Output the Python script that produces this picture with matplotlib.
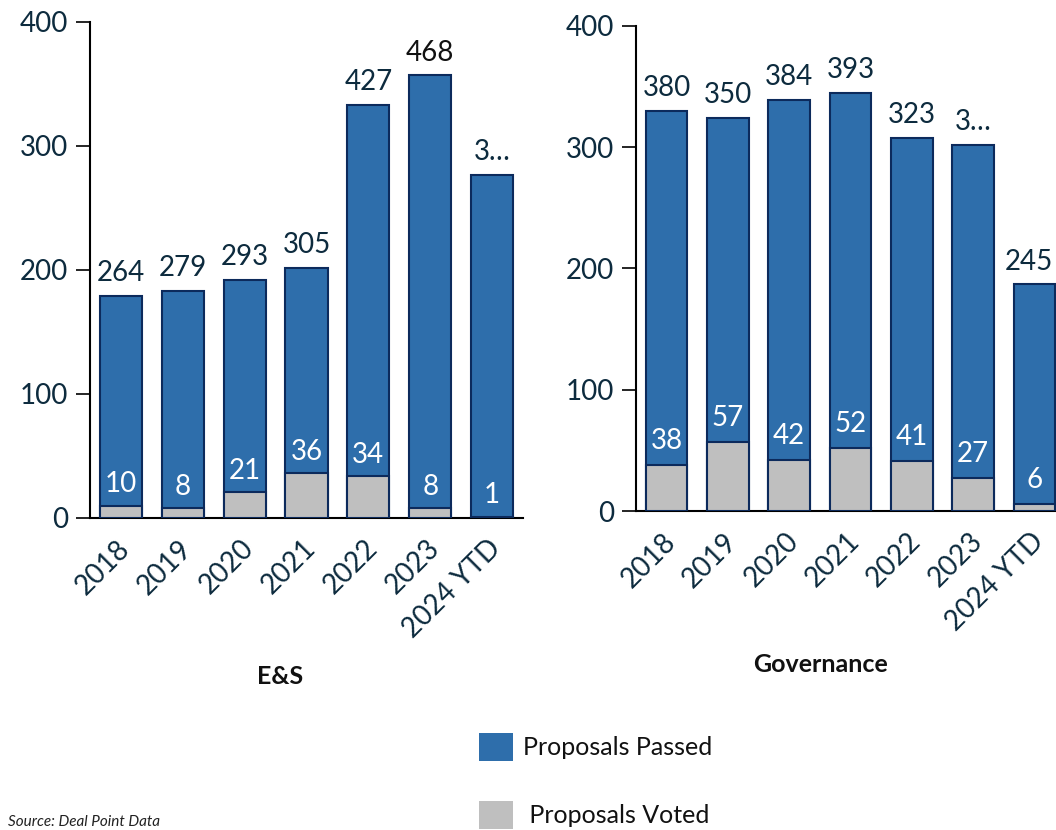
import matplotlib
matplotlib.use("Agg")
import matplotlib.pyplot as plt
from matplotlib.patches import Patch
import matplotlib.transforms as mtransforms

plt.rcParams['font.family'] = ['Lato', 'DejaVu Sans']

categories = ["2018", "2019", "2020", "2021", "2022", "2023", "2024 YTD"]

# E&S panel
es_passed = [179, 183, 192, 202, 333, 357, 277]
es_voted = [10, 8, 21, 36, 34, 8, 1]
es_top_labels = ["264", "279", "293", "305", "427", "468", "3…"]

# Governance panel
gov_passed = [330, 324, 339, 345, 308, 302, 187]
gov_voted = [38, 57, 42, 52, 41, 27, 6]
gov_top_labels = ["380", "350", "384", "393", "323", "3…", "245"]

BLUE = "#2e6eab"
EDGE = "#0c2a5c"
GRAY = "#bfbfbf"
TEXT = "#0d2b3e"

W, H = 1056, 830
fig = plt.figure(figsize=(W / 100, H / 100), dpi=100)


def px_axes(x0, y_top, x1, y_bot):
    return fig.add_axes([x0 / W, (H - y_bot) / H, (x1 - x0) / W, (y_bot - y_top) / H])


def draw_panel(ax, passed, voted, top_labels, top_colors, inner_pad, keep_inside=False):
    x = list(range(len(categories)))
    ax.bar(x, passed, width=0.68, color=BLUE, edgecolor=EDGE, linewidth=1.5, zorder=2)
    ax.bar(x, voted, width=0.68, color=GRAY, edgecolor=EDGE, linewidth=1.5, zorder=3)
    ax.set_xlim(-0.5, 6.5)
    ax.set_ylim(0, 400)
    ax.set_yticks([0, 100, 200, 300, 400])
    ax.tick_params(axis='y', length=10, width=1.2, labelsize=20, labelcolor=TEXT, pad=6)
    ax.tick_params(axis='x', length=0, labelsize=20, labelcolor=TEXT, pad=19)
    ax.set_xticks(x)
    ax.set_xticklabels(categories, rotation=45, ha='right', va='center',
                       rotation_mode='anchor')
    shift = mtransforms.ScaledTranslation(5 / 100, 0, fig.dpi_scale_trans)
    for lbl in ax.get_xticklabels():
        lbl.set_transform(lbl.get_transform() + shift)
    for s in ("top", "right"):
        ax.spines[s].set_visible(False)
    ax.spines["left"].set_linewidth(1.5)
    ax.spines["bottom"].set_linewidth(1.5)
    ax.set_facecolor("none")
    n = len(x)
    for xi, p, lab, c in zip(x, passed, top_labels, top_colors):
        if keep_inside and xi == n - 1:
            # last bar runs into the figure edge: right-align its label there
            ax.annotate(lab, (1.0, p), xycoords=("figure fraction", "data"),
                        xytext=(-2, 7), textcoords="offset points",
                        ha='right', va='bottom', fontsize=20, color=c, zorder=5,
                        annotation_clip=False)
        else:
            ax.annotate(lab, (xi, p), xytext=(0, 7), textcoords="offset points",
                        ha='center', va='bottom', fontsize=20, color=c, zorder=5,
                        annotation_clip=False)
    for xi, v in zip(x, voted):
        ax.annotate(str(v), (xi, v), xytext=(0, inner_pad), textcoords="offset points",
                    ha='center', va='bottom', fontsize=20, color="white", zorder=5)


ax1 = px_axes(90, 22, 523, 518)
draw_panel(ax1, es_passed, es_voted, es_top_labels,
           [TEXT, TEXT, TEXT, TEXT, TEXT, "#111111", TEXT], inner_pad=6)

ax2 = px_axes(636, 26, 1065, 511)
draw_panel(ax2, gov_passed, gov_voted, gov_top_labels, [TEXT] * 7, inner_pad=8,
           keep_inside=True)

fig.text(280 / W, 1 - 677 / H, "E&S", ha='center', va='center',
         fontsize=18, fontweight='bold', color="#111111")
fig.text(820 / W, 1 - 665 / H, "Governance", ha='center', va='center',
         fontsize=18, fontweight='bold', color="#111111")

handles = [Patch(facecolor=BLUE, edgecolor='none', label="Proposals Passed"),
           Patch(facecolor=GRAY, edgecolor='none', label=" Proposals Voted")]
fig.legend(handles=handles, loc='upper left', bbox_to_anchor=(479 / W, 1 - 733 / H),
           frameon=False, fontsize=18, handlelength=1.35, handleheight=1.35,
           handletextpad=0.4, labelspacing=1.6, borderpad=0, borderaxespad=0,
           labelcolor="#111111")

fig.text(8 / W, 1 - 829 / H, "Source: Deal Point Data", ha='left', va='bottom',
         fontsize=11, fontstyle='italic', color="#222222")

fig.savefig("out.png", dpi=100)
